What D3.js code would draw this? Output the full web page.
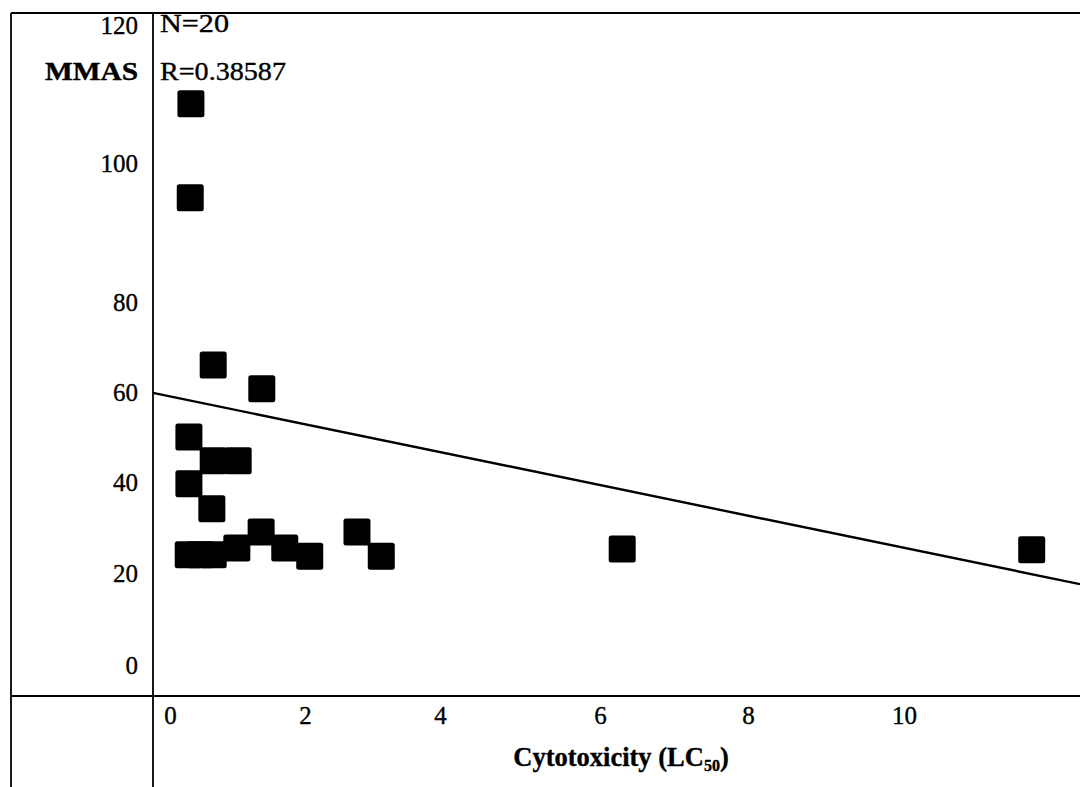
<!DOCTYPE html>
<html>
<head>
<meta charset="utf-8">
<script src="https://cdn.jsdelivr.net/npm/d3@7"></script>
<style>
  html, body { margin: 0; padding: 0; background: #fff; }
  svg { display: block; }
  text { font-family: "Liberation Serif", "Times New Roman", serif; fill: #000; stroke: #000; stroke-width: 0.35px; }
</style>
</head>
<body>
<div id="chart"></div>
<script>
// ---------------- data ----------------
const xTickValues = [0, 2, 4, 6, 8, 10];
const yTickValues = [0, 20, 40, 60, 80, 100, 120];
const cytotoxicity = [0.31, 0.30, 0.64, 1.36, 0.28, 0.64, 1.01, 0.28, 0.62, 0.27, 0.45, 0.64, 0.99, 1.35, 1.70, 2.07, 2.77, 3.13, 6.30, 11.64];
const mmas         = [108.6, 95.0, 66.0, 60.7, 50.0, 44.7, 44.7, 39.6, 34.1, 24.0, 24.0, 24.0, 25.5, 29.0, 25.5, 23.7, 29.0, 23.7, 25.3, 25.1];
const regressionIntercept = 58.9;
const regressionSlope = -3.37;
const annotationN = "N=20";
const annotationR = "R=0.38587";
const yTitle = "MMAS";
const xTitle = "Cytotoxicity (LC";
const xTitleSub = "50";

// ---------------- layout ----------------
const W = 1080, H = 787;
const svg = d3.select("#chart").append("svg").attr("width", W).attr("height", H);

// piecewise scales reproduce the (uneven) spacing of the printed axes
const x = d3.scaleLinear()
  .domain([-0.27, 0, 2, 4, 6, 8, 10, 12.26])
  .range([153, 170, 305, 440, 600, 748, 904, 1080]);
const y = d3.scaleLinear()
  .domain([-6.7, 0, 20, 40, 60, 80, 100, 120, 121.7])
  .range([696, 665, 573, 482, 392, 302, 163, 25, 13]);

const axisX = 153, axisY = 696, topY = 13, leftX = 11;

// frame lines
const frame = svg.append("g").attr("stroke", "#000").attr("stroke-width", 1.8);
frame.append("line").attr("x1", leftX).attr("x2", W).attr("y1", topY).attr("y2", topY);
frame.append("line").attr("x1", leftX).attr("x2", leftX).attr("y1", topY).attr("y2", H);
frame.append("line").attr("x1", axisX).attr("x2", axisX).attr("y1", topY).attr("y2", H);
frame.append("line").attr("x1", leftX).attr("x2", W).attr("y1", axisY).attr("y2", axisY);

// y axis labels
const gy = svg.append("g")
  .attr("transform", `translate(${axisX},0)`)
  .call(d3.axisLeft(y).tickValues(yTickValues).tickSize(0).tickPadding(15).tickFormat(d3.format("d")));
gy.select(".domain").remove();
gy.selectAll("text").attr("font-size", 25).attr("font-family", "Liberation Serif").attr("fill", "#000");

// x axis labels
const gx = svg.append("g")
  .attr("transform", `translate(0,${axisY})`)
  .call(d3.axisBottom(x).tickValues(xTickValues).tickSize(0).tickPadding(10).tickFormat(d3.format("d")));
gx.select(".domain").remove();
gx.selectAll("text").attr("font-size", 25).attr("font-family", "Liberation Serif").attr("fill", "#000");

// titles & annotations
svg.append("text").attr("x", 138).attr("y", 80).attr("text-anchor", "end")
  .attr("font-size", 25).attr("font-weight", "bold")
  .attr("textLength", 93).attr("lengthAdjust", "spacingAndGlyphs").text(yTitle);
svg.append("text").attr("x", 160).attr("y", 32).attr("font-size", 25)
  .attr("textLength", 69).attr("lengthAdjust", "spacingAndGlyphs").text(annotationN);
svg.append("text").attr("x", 160).attr("y", 80).attr("font-size", 25)
  .attr("textLength", 126).attr("lengthAdjust", "spacingAndGlyphs").text(annotationR);

const xt = svg.append("text").attr("x", 621).attr("y", 766).attr("text-anchor", "middle")
  .attr("font-size", 26.5).attr("font-weight", "bold");
xt.append("tspan").text(xTitle);
xt.append("tspan").attr("font-size", 16).attr("dy", 5).text(xTitleSub);
xt.append("tspan").attr("dy", -5).text(")");

// regression line
const xDom = x.domain();
const regPts = [xDom[0], xDom[xDom.length - 1]].map(v => [v, regressionIntercept + regressionSlope * v]);
svg.append("path")
  .datum(regPts)
  .attr("fill", "none").attr("stroke", "#000").attr("stroke-width", 2.4)
  .attr("d", d3.line().x(d => x(d[0])).y(d => y(d[1])));

// points (filled squares)
const S = 27;
svg.append("g").selectAll("rect")
  .data(cytotoxicity.map((c, i) => ({ c, m: mmas[i] })))
  .join("rect")
  .attr("x", d => x(d.c) - S / 2)
  .attr("y", d => y(d.m) - S / 2)
  .attr("width", S).attr("height", S)
  .attr("rx", 2.5)
  .attr("fill", "#000");
</script>
</body>
</html>
